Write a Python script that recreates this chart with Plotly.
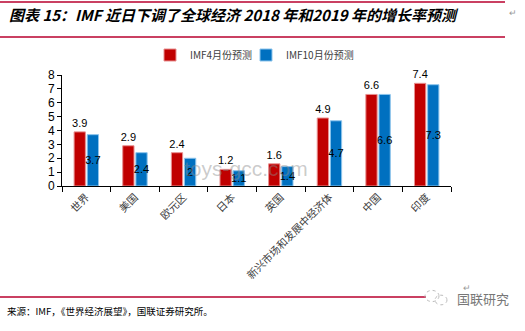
import plotly.graph_objects as go

categories = ["世界", "美国", "欧元区", "日本", "英国", "新兴市场和发展中经济体", "中国", "印度"]
apr_forecast = [3.9, 2.9, 2.4, 1.2, 1.6, 4.9, 6.6, 7.4]
oct_forecast = [3.7, 2.4, 2.0, 1.1, 1.4, 4.7, 6.6, 7.3]
series_names = ["IMF4月份预测", "IMF10月份预测"]
y_ticks = [0, 1, 2, 3, 4, 5, 6, 7, 8]

W, H = 525, 331
L, R, T, B = 62, 74, 75, 145
PW, PH = W - L - R, H - T - B

def px(x):
    return (x - L) / PW

def py(y):
    return (H - B - y) / PH

RED = "#C00000"
BLUE = "#0070C0"
CJK = "Noto Sans CJK SC"
LAT = "Liberation Sans, Arial"

fig = go.Figure()
fig.add_trace(go.Bar(
    x=categories, y=apr_forecast, name=series_names[0], legend="legend",
    marker=dict(color=RED, line=dict(color="#E89090", width=1)),
    text=[f"{v:g}" for v in apr_forecast], textposition="outside",
    textfont=dict(family=LAT, size=11, color="black"), textangle=0,
    cliponaxis=False,
))
fig.add_trace(go.Bar(
    x=categories, y=oct_forecast, name=series_names[1], legend="legend2",
    marker=dict(color=BLUE, line=dict(color="#8CC4EC", width=1)),
    text=[f"{v:g}" for v in oct_forecast], textposition="inside",
    insidetextanchor="middle",
    textfont=dict(family=LAT, size=11, color="black"), textangle=0,
    cliponaxis=False,
))

leg_common = dict(orientation="h", y=py(55), xanchor="left", yanchor="middle",
                  font=dict(family=CJK, size=10, color="#404040"),
                  itemwidth=30, bgcolor="rgba(0,0,0,0)")

fig.update_layout(
    width=W, height=H,
    margin=dict(l=L, r=R, t=T, b=B, pad=0),
    paper_bgcolor="white", plot_bgcolor="white",
    barmode="group", bargap=0.46, bargroupgap=0.14,
    uniformtext=dict(minsize=11, mode="show"),
    font=dict(family=LAT, size=11, color="black"),
    showlegend=True,
    legend=dict(x=px(150), **leg_common),
    legend2=dict(x=px(246), **leg_common),
    xaxis=dict(showline=True, linecolor="black", linewidth=1,
               ticks="outside", ticklen=5, tickcolor="black", tickson="boundaries",
               tickangle=-45, tickfont=dict(family=CJK, size=10.5, color="#404040"),
               showgrid=False),
    yaxis=dict(range=[0, 8], tickvals=y_ticks, showline=True, linecolor="black", linewidth=1,
               ticks="outside", ticklen=4, tickcolor="black", showgrid=False, zeroline=False,
               tickfont=dict(family=LAT, size=12, color="black")),
)

shapes = []
for yy in (2, 37, 297):
    shapes.append(dict(type="line", xref="paper", yref="paper",
                       x0=px(0), x1=px(505 if yy < 100 else 426), y0=py(yy), y1=py(yy),
                       line=dict(color="#B8002E", width=1.3)))
for (cx, cy, r) in ((432, 296, 7), (441, 300, 6)):
    shapes.append(dict(type="circle", xref="paper", yref="paper",
                       x0=px(cx - r), x1=px(cx + r), y0=py(cy + r * 0.8), y1=py(cy - r * 0.8),
                       line=dict(color="#BBBBBB", width=1, dash="dot")))
fig.update_layout(shapes=shapes)

ann = [
    dict(text="<b><i>图表 15：IMF 近日下调了全球经济 2018 年和2019 年的增长率预测</i></b>",
         x=px(7), y=py(14), xanchor="left", yanchor="middle",
         font=dict(family=CJK, size=15, color="black")),
    dict(text="toys-gcc.com", x=px(246), y=py(168), xanchor="center", yanchor="middle",
         font=dict(family=LAT, size=21, color="rgba(140,140,140,0.45)")),
    dict(text="来源：IMF，《世界经济展望》，国联证券研究所。", x=px(5), y=py(311),
         xanchor="left", yanchor="middle", font=dict(family=CJK, size=9.5, color="black")),
    dict(text="国联研究", x=px(455), y=py(298), xanchor="left", yanchor="middle",
         font=dict(family=CJK, size=13, color="#777777")),
    dict(text="↵", x=px(513), y=py(13), xanchor="center", yanchor="middle",
         font=dict(family=LAT, size=9, color="#999999")),
    dict(text="↵", x=px(467), y=py(288), xanchor="center", yanchor="middle",
         font=dict(family=LAT, size=9, color="#999999")),
]
for a in ann:
    a.update(xref="paper", yref="paper", showarrow=False)
fig.update_layout(annotations=ann)

fig.write_html("out.html")
